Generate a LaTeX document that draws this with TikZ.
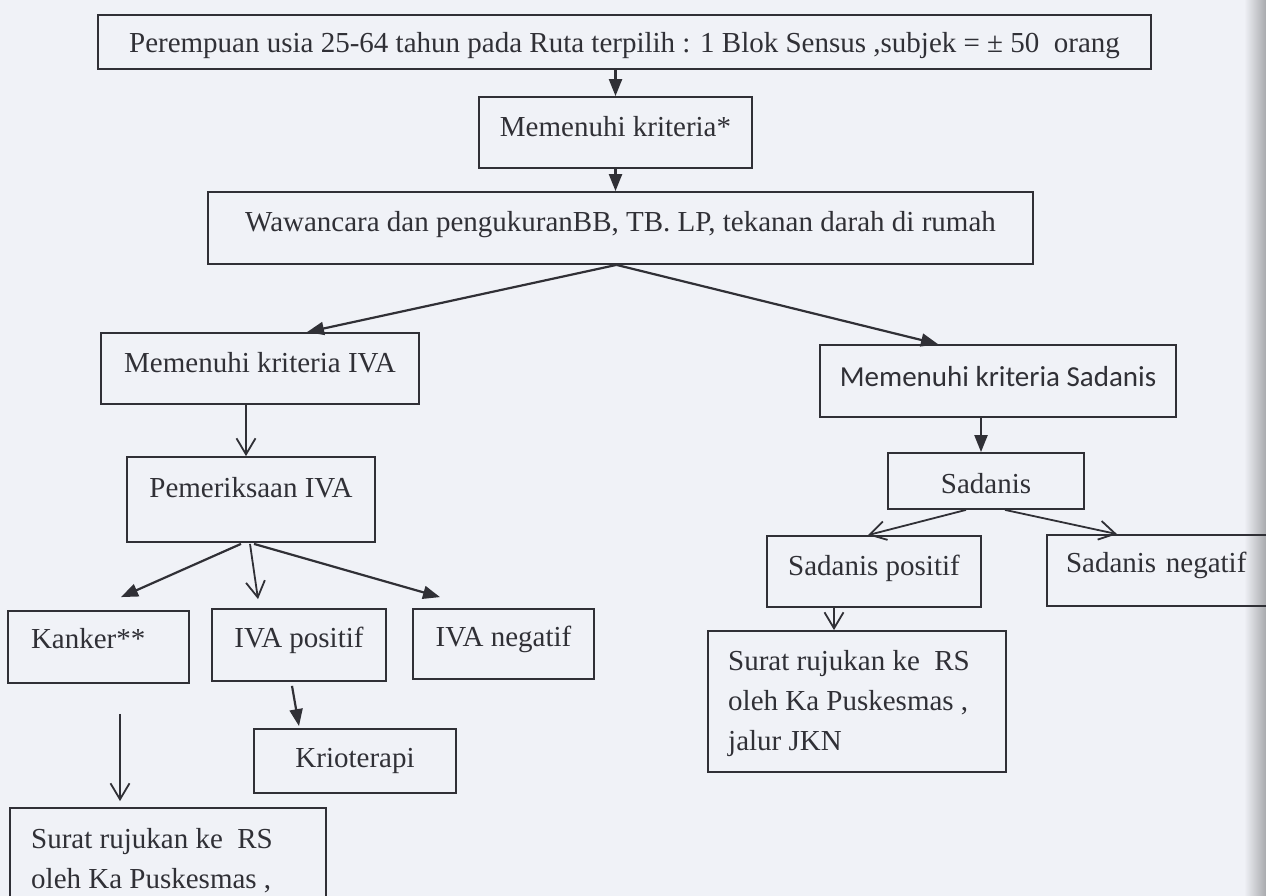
\documentclass[tikz,border=0pt]{standalone}
\usepackage{fontspec}
\setmainfont{Liberation Serif}
\newfontfamily\calibrifont{Carlito}
\usetikzlibrary{arrows.meta,calc,positioning}
\definecolor{kertas}{RGB}{240,242,247}
\definecolor{tinta}{RGB}{48,48,54}
\newcommand\ukuran{\fontsize{29}{40}\selectfont}

\tikzset{
  kotak/.style={draw=tinta, line width=1.8pt, inner sep=0pt, text=tinta, font=\ukuran},
  teks/.style={text=tinta, inner sep=0pt, align=left, font=\ukuran},
  panah/.style={draw=tinta, line width=2.2pt, -{Triangle[length=17pt,width=13pt]}},
  panahbuka/.style={draw=tinta, line width=1.8pt, -{Straight Barb[length=16pt,width=19pt]}}
}

\begin{document}
\begin{tikzpicture}[x=1pt,y=-1pt]
\path[use as bounding box] (0,0) rectangle (1266,896);
\clip (0,0) rectangle (1266,896);
\fill[kertas] (0,0) rectangle (1266,896);
\shade[left color=kertas, right color=kertas!70!black] (1244,0) rectangle (1266,896);

\node[kotak, minimum width=1053pt, text height=38pt, text depth=16pt] (awal) at (624.5,42) {Perempuan usia 25-64 tahun pada Ruta terpilih : 1 Blok Sensus ,subjek = ± 50\ \ orang};
\node[kotak, minimum width=273pt, text height=40pt, text depth=31pt] (kriteria) at (615.5,132.5) {Memenuhi kriteria*};
\node[kotak, minimum width=825pt, text height=40pt, text depth=32pt] (wawancara) at (620.5,228) {Wawancara dan pengukuranBB, TB. LP, tekanan darah di rumah};

\node[kotak, minimum width=318pt, text height=39pt, text depth=32pt] (iva) at (260,368.5) {Memenuhi kriteria IVA};
\node[kotak, minimum width=248pt, text height=40pt, text depth=45pt] (periksa) at (251,499.5) {Pemeriksaan IVA};
\node[kotak, text width=135pt, inner xsep=23pt, align=left, text height=37pt, text depth=35pt] (kanker) at (98.5,647) {Kanker**};
\node[kotak, minimum width=174pt, text height=38pt, text depth=34pt] (ivapos) at (299,645) {IVA positif};
\node[kotak, minimum width=181pt, text height=37pt, text depth=33pt] (ivaneg) at (503.5,644) {IVA negatif};
\node[kotak, minimum width=202pt, text height=38pt, text depth=26pt] (krio) at (355,761) {Krioterapi};
\node[kotak, minimum width=316pt, minimum height=142pt] (rujukkiri) at (168,879) {};
\node[teks, anchor=north west] (teksrujukkiri) at (31,828) {Surat rujukan ke\ \ RS\\oleh Ka Puskesmas ,};

\node[kotak, minimum width=356pt, text height=41pt, text depth=31pt, font=\calibrifont\ukuran] (sadkrit) at (998,381) {Memenuhi kriteria Sadanis};
\node[kotak, minimum width=196pt, text height=40pt, text depth=16pt] (sadanis) at (986,481) {Sadanis};
\node[kotak, minimum width=214pt, text height=39pt, text depth=32pt] (sadpos) at (874,571.5) {Sadanis positif};
\node[kotak, text width=205pt, inner xsep=19pt, align=left, text height=37pt, text depth=34pt] (sadneg) at (1168.5,570.5) {Sadanis negatif};
\node[kotak, minimum width=298pt, minimum height=141pt] (rujukkanan) at (857,701.5) {};
\node[teks, anchor=north west] (teksrujukkanan) at (728,650) {Surat rujukan ke\ \ RS\\oleh Ka Puskesmas ,\\jalur JKN};

\draw[panah] (kriteria.north |- awal.south) -- (kriteria.north);
\draw[panah] (kriteria.south) -- (kriteria.south |- wawancara.north);
\draw[panah] ($(wawancara.south)+(-4,0)$) -- ($(iva.north)+(47,0)$);
\draw[panah] ($(wawancara.south)+(-4,0)$) -- ($(sadkrit.north)+(-60,0)$);

\draw[panahbuka] ($(iva.south)+(-14,0)$) -- ($(periksa.north)+(-5,0)$);
\draw[panah] ($(periksa.south)+(-10,1)$) -- ($(kanker.north)+(22.5,-13)$);
\draw[panahbuka] ($(periksa.south)+(-1,1)$) -- ($(ivapos.north)+(-41,-9)$);
\draw[panah] ($(periksa.south)+(3,1)$) -- ($(ivaneg.north)+(-63.5,-11)$);
\draw[panah] ($(ivapos.south)+(-7,4)$) -- ($(krio.north)+(-56,-2)$);
\draw[panahbuka] ($(kanker.south)+(21.5,30)$) -- ($(rujukkiri.north)+(-48,-6)$);

\draw[panah] ($(sadkrit.south)+(-17,0)$) -- ($(sadanis.north)+(-5,0)$);
\draw[panahbuka] ($(sadanis.south)+(-20,0)$) -- ($(sadpos.north)+(-6,0)$);
\draw[panahbuka] ($(sadanis.south)+(19,0)$) -- ($(sadneg.north)+(-51.5,0)$);
\draw[panahbuka] ($(sadpos.south)+(-40,0)$) -- ($(rujukkanan.north)+(-23,0)$);
\end{tikzpicture}
\end{document}
